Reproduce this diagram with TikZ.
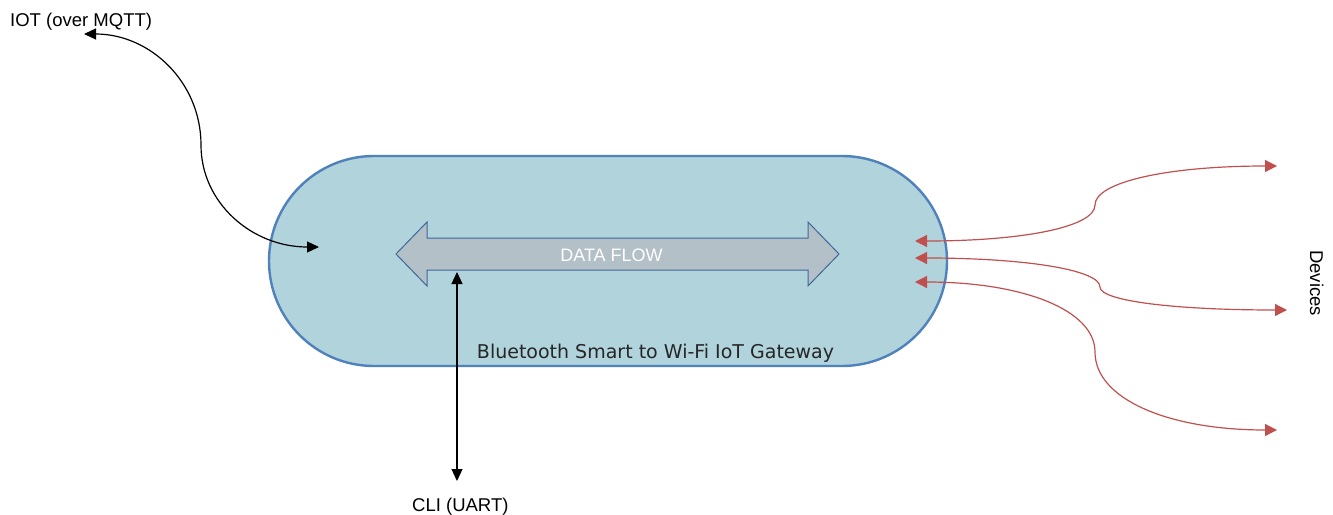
\documentclass[tikz,border=0pt]{standalone}
\usepackage{fontspec}
\setmainfont{Liberation Sans}
\newfontfamily\gwfont{DejaVu Sans}
\usetikzlibrary{arrows.meta,positioning}
\definecolor{gwfill}{HTML}{B0D3DC}
\definecolor{gwline}{HTML}{4F81BD}
\definecolor{flowfill}{HTML}{B4C0C7}
\definecolor{flowline}{HTML}{41679A}
\definecolor{devred}{HTML}{C0504D}
\tikzset{
  lbl/.style={font=\fontsize{18.5}{21}\selectfont, inner sep=0pt},
  gwbox/.style={draw=gwline, fill=gwfill, line width=2.4pt, rounded corners=105pt,
    minimum width=678pt, minimum height=210pt},
  blkarrow/.style={line width=1.2pt, {Triangle[length=12pt,width=11pt]}-{Triangle[length=12pt,width=11pt]}},
  redarrow/.style={devred, line width=1.2pt, {Triangle[length=12pt,width=12pt]}-{Triangle[length=12pt,width=12pt]}},
}

\begin{document}
\begin{tikzpicture}[x=1pt,y=-1pt]
\useasboundingbox (0,0) rectangle (1333,514);

% Draw the gateway
\node[gwbox] (gw) at (608,261) {};
\node[font=\gwfont\fontsize{19}{22}\selectfont, text=black!85, inner sep=0pt, anchor=base]
  (gwlabel) at (655.5,358) {Bluetooth Smart to Wi-Fi IoT Gateway};

% Draw the data flow arrow
\draw[flowline, fill=flowfill, line width=1pt] (396,254) -- (427,222) -- (427,238) -- (808,238)
  -- (808,222) -- (839,254) -- (808,286) -- (808,270) -- (427,270) -- (427,286) -- cycle;
\node[lbl, text=white, font=\fontsize{18}{21}\selectfont] (flow) at (611.5,255) {DATA FLOW};

% Labels
\node[lbl, anchor=base west] (iot) at (10,26) {IOT (over MQTT)};
\node[lbl, anchor=base west] (cli) at (412,511) {CLI (UART)};
\node[lbl, anchor=base west, rotate=-90] (dev) at (1310,250) {Devices};

% IOT link
\coordinate (iotend) at (84,34);
\coordinate (iotin) at (319,247);
\draw[blkarrow] (iotend) .. controls (150,34) and (201,82) .. (201,145)
  .. controls (201,203) and (252,247) .. (iotin);

% CLI link
\coordinate (clitop) at (457,272);
\coordinate (clibot) at (457,481);
\draw[blkarrow] (clitop) -- (clibot);

% Device links
\coordinate (d1in) at (915,241);
\coordinate (d1out) at (1277,166);
\coordinate (d2in) at (915,258);
\coordinate (d2out) at (1287,310);
\coordinate (d3in) at (915,282);
\coordinate (d3out) at (1277,430);
\draw[redarrow] (d1in) .. controls (1023,241) and (1095,227) .. (1095,205)
  .. controls (1095,182) and (1168,166) .. (d1out);
\draw[redarrow] (d2in) .. controls (1026,258) and (1100,270) .. (1100,287)
  .. controls (1100,301) and (1175,310) .. (d2out);
\draw[redarrow] (d3in) .. controls (1023,282) and (1095,310) .. (1095,352)
  .. controls (1095,399) and (1168,430) .. (d3out);
\end{tikzpicture}
\end{document}
